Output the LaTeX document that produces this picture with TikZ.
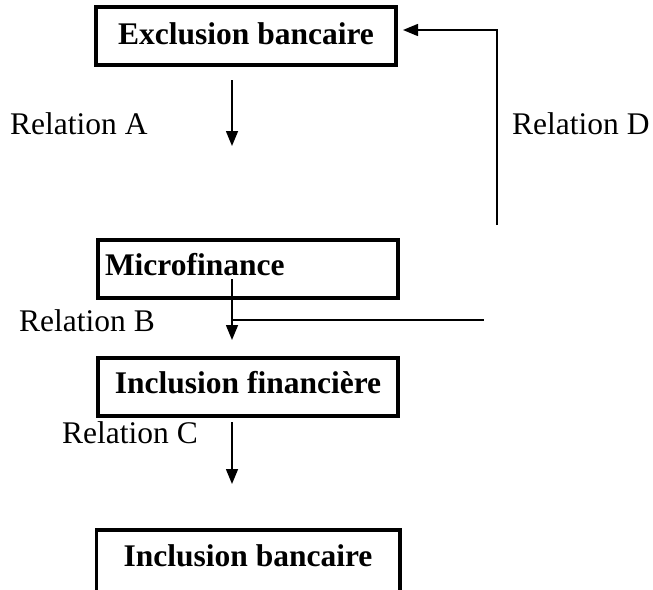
\documentclass[tikz,border=0pt]{standalone}
\usepackage{fontspec}
\setmainfont{Liberation Serif}
\usetikzlibrary{positioning, arrows.meta}

\begin{document}
\begin{tikzpicture}[x=1pt, y=-1pt, every box/.style={draw, line width=3.5pt, minimum width=300pt, minimum height=58pt, font=\fontsize{31.5}{36}\selectfont\bfseries, inner sep=0pt, text height=35pt, text depth=23pt}, every rel/.style={font=\fontsize{31.5}{36}\selectfont, inner sep=0pt}, every link/.style={line width=1.5pt, -{Triangle[length=15pt, width=12pt]}}]

    \useasboundingbox (0,0) rectangle (653,589);

    % Boxes
    \node[every box, text height=37pt, text depth=21pt] (Excl) at (246,36) {Exclusion bancaire};
    \node[every box, text width=286pt, align=left] (Micro) at (248,269) {Microfinance};
    \node[every box] (InclF) at (248,387) {Inclusion financi\`ere};
    \node[every box, draw=none, minimum height=100pt, text depth=65pt, anchor=north] (InclB) at (248,530) {Inclusion bancaire};
    \draw[line width=3.5pt] (InclB.south west) |- (InclB.north east) -- (InclB.south east);

    % Relation labels
    \node[every rel, anchor=west] (RelA) at (10,124) {Relation A};
    \node[every rel, anchor=west] (RelB) at (19,321) {Relation B};
    \node[every rel, anchor=west] (RelC) at (62,433) {Relation C};
    \node[every rel, anchor=west] (RelD) at (512,124) {Relation D};

    % Free ends of the connectors
    \coordinate (A-start) at (232,80);
    \coordinate (A-end) at (232,146);
    \coordinate (B-start) at (232,279);
    \coordinate (B-end) at (232,340);
    \coordinate (B-join) at (232,320);
    \coordinate (B-right) at (484,320);
    \coordinate (C-start) at (232,422);
    \coordinate (C-end) at (232,484);
    \coordinate (D-start) at (497,225);
    \coordinate (D-corner) at (497,30);
    \coordinate (D-end) at (403,30);

    % Connections
    \draw[every link] (A-start) -- (A-end);
    \draw[every link] (B-start) -- (B-end);
    \draw[line width=1.5pt] (B-join) -- (B-right);
    \draw[every link] (C-start) -- (C-end);
    \draw[every link] (D-start) -- (D-corner) -- (D-end);

\end{tikzpicture}
\end{document}
